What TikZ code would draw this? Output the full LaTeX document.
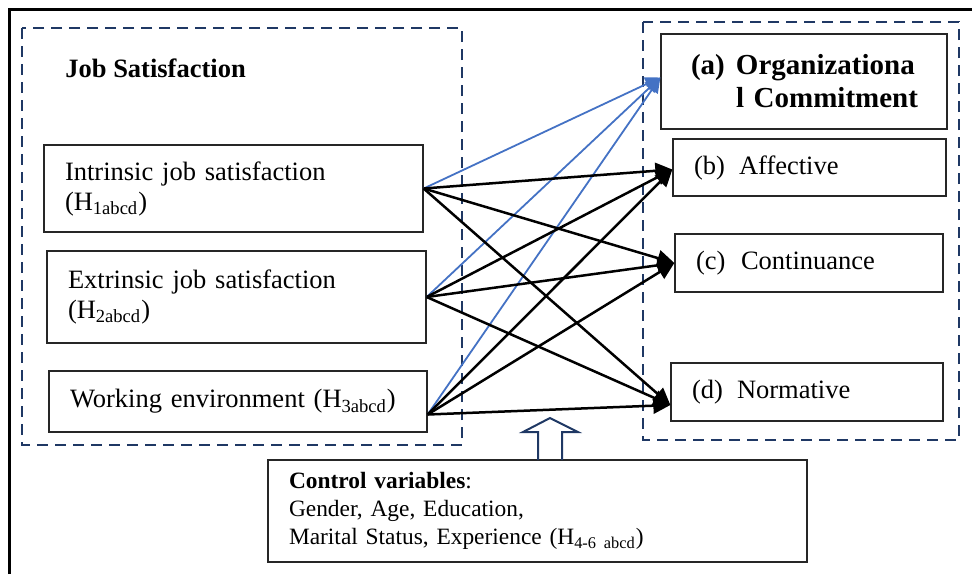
\documentclass[tikz,border=0pt]{standalone}
\usepackage{fontspec}
\setmainfont{Liberation Serif}
\usetikzlibrary{arrows.meta}
\definecolor{navy}{RGB}{31,56,100}
\definecolor{lineblue}{RGB}{68,114,196}

\begin{document}
\begin{tikzpicture}[x=0.5pt,y=-0.5pt,
    box/.style={draw=black!85,line width=0.65pt,align=left,inner xsep=10.5pt,inner ysep=0pt,
      font=\fontsize{13.25pt}{15pt}\selectfont},
    group/.style={draw=navy,line width=1.4pt,dash pattern=on 5.5pt off 3.5pt},
    link/.style={line width=1.25pt,-{Triangle[length=8.5pt,width=8pt]}},
    bluelink/.style={draw=lineblue,line width=0.9pt,-{Triangle[length=7.5pt,width=7pt]}}]
    \useasboundingbox (0,0) rectangle (972,574);
    \draw[line width=1.5pt] (9,574)--(9,9)--(972,9);
    \draw[group] (22,28) rectangle (462,445);
    \draw[group] (643,22) rectangle (959,440);
    \node[anchor=base west,inner sep=0pt,font=\fontsize{13.25pt}{15pt}\selectfont\bfseries] (jstitle) at (65,77) {Job Satisfaction};
    \node[box,text width=168.5pt,minimum height=43.5pt] (intr) at (233.5,188.5) {Intrinsic job satisfaction\\(H\textsubscript{1abcd})};
    \node[box,text width=168.5pt,minimum height=46pt] (extr) at (236.5,297) {Extrinsic job satisfaction\\(H\textsubscript{2abcd})};
    \node[box,text width=168pt,minimum height=30.5pt] (work) at (238,401.5) {Working environment (H\textsubscript{3abcd})};
    \node[box,inner xsep=15pt,text width=113pt,minimum height=47.5pt,font=\fontsize{14.5pt}{16.5pt}\selectfont\bfseries] (orgc) at (804,81.5)
        {\makebox[22.5pt][l]{(a)}\mbox{Organizationa}\\\hspace*{22.5pt}\mbox{l Commitment}};
    \node[box,text width=115.5pt,minimum height=28.5pt] (aff) at (809.5,167.5) {\makebox[22.5pt][l]{(b)}Affective};
    \node[box,text width=113pt,minimum height=29pt] (cont) at (809,263) {\makebox[22.5pt][l]{(c)}Continuance};
    \node[box,text width=115pt,minimum height=29pt] (norm) at (807,392) {\makebox[22.5pt][l]{(d)}Normative};
    \node[box,text width=248.5pt,minimum height=51pt,font=\fontsize{11.7pt}{14pt}\selectfont] (ctrl) at (537.5,511)
        {\textbf{Control variables}:\\Gender, Age, Education,\\Marital Status, Experience (H\textsubscript{4-6 abcd})};
    \coordinate (wsrc) at ([yshift=-6.5pt]work.east);
    \coordinate (otgt) at ([yshift=2pt]orgc.west);
    \coordinate (atgt) at ([yshift=-1pt]aff.west);
    \coordinate (ntgt) at ([yshift=-6.5pt]norm.west);
    \draw[bluelink] (intr.east)--(otgt);
    \draw[bluelink] (extr.east)--(otgt);
    \draw[bluelink] (wsrc)--(otgt);
    \draw[link] (intr.east)--(atgt);
    \draw[link] (intr.east)--(cont.west);
    \draw[link] (intr.east)--(ntgt);
    \draw[link] (extr.east)--(atgt);
    \draw[link] (extr.east)--(cont.west);
    \draw[link] (extr.east)--(ntgt);
    \draw[link] (wsrc)--(atgt);
    \draw[link] (wsrc)--(cont.west);
    \draw[link] (wsrc)--(ntgt);
    \draw[navy,line width=1pt] (538,460)--(538,432)--(523,432)--(550,418)--(578,432)--(562,432)--(562,460);
\end{tikzpicture}
\end{document}
